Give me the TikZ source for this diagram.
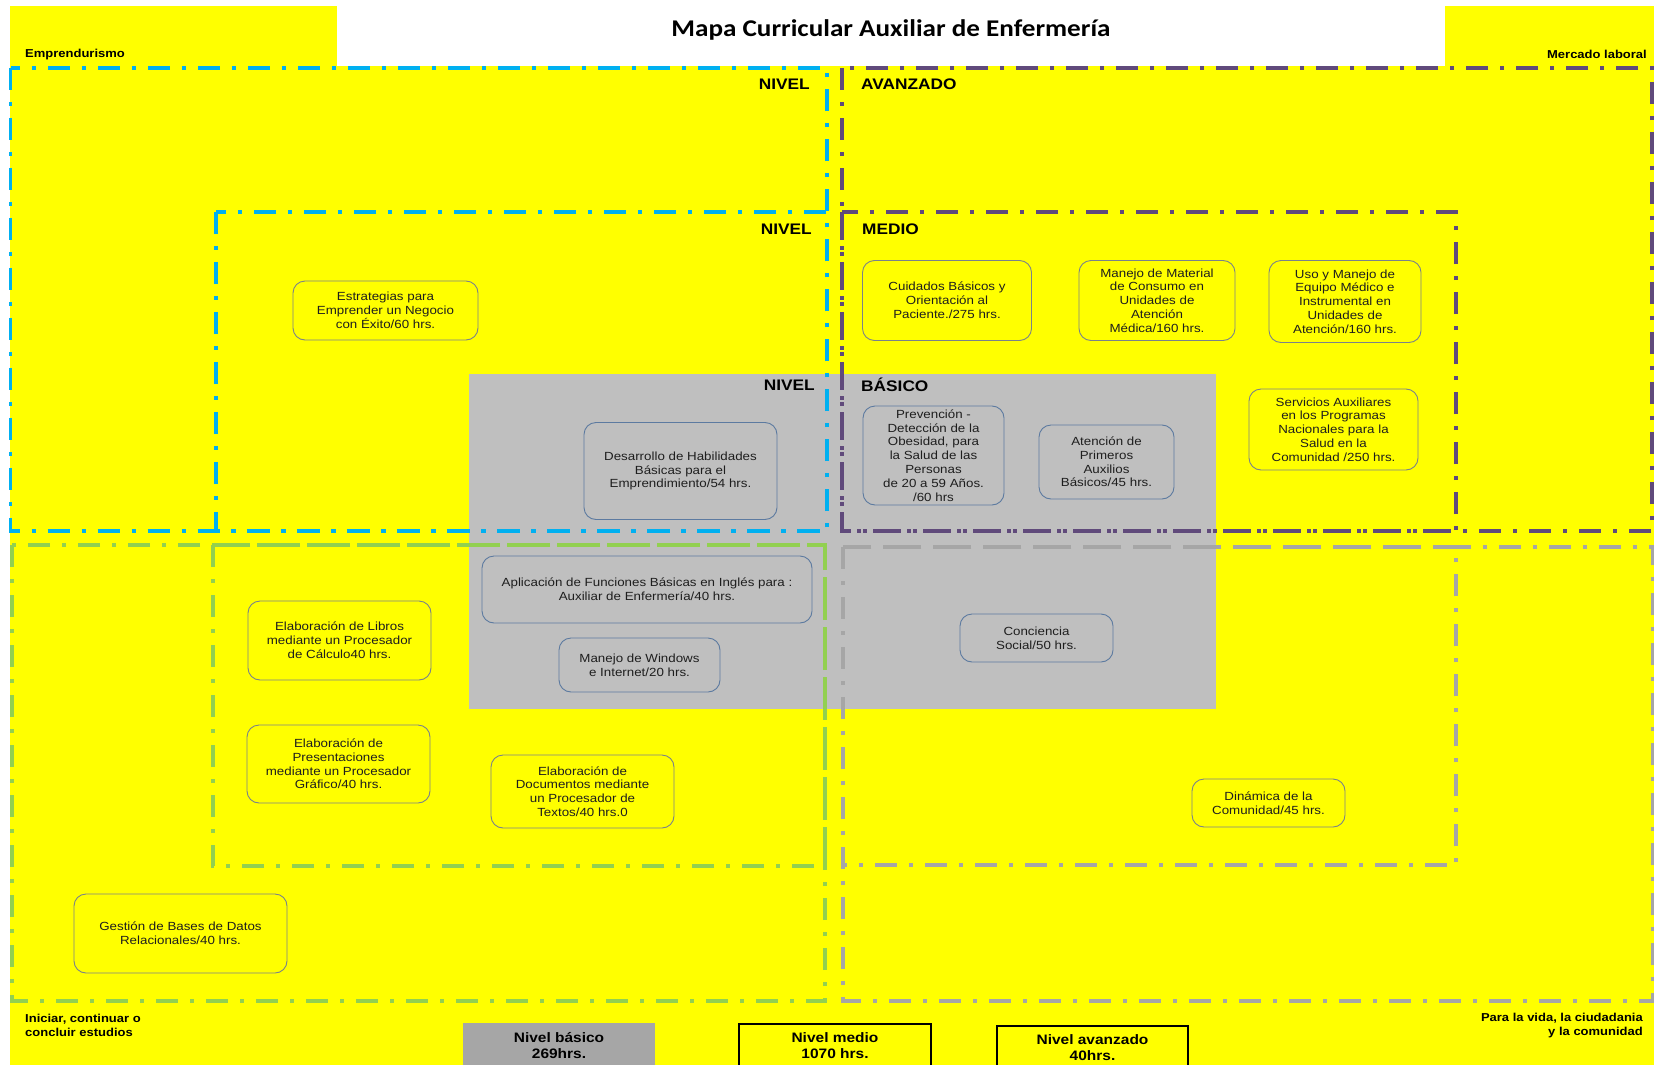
\documentclass[tikz,border=0pt]{standalone}
\usepackage{fontspec}
\setmainfont{Liberation Sans}[FakeStretch=1.13]
\newfontfamily\titulofont{Carlito}[FakeStretch=1.13]
\usetikzlibrary{positioning}
\definecolor{Amarillo}{RGB}{255,255,0}
\definecolor{AzulNivel}{RGB}{0,176,240}
\definecolor{MoradoNivel}{RGB}{96,74,123}
\definecolor{VerdeNivel}{RGB}{146,208,80}
\definecolor{GrisNivel}{RGB}{166,166,166}
\definecolor{GrisBasico}{RGB}{191,191,191}
\definecolor{BordeCurso}{RGB}{122,130,138}
\definecolor{BordeGris}{RGB}{92,122,160}
\definecolor{Texto}{RGB}{30,30,30}

\begin{document}
\begin{tikzpicture}[x=1pt, y=-1pt, font={\fontsize{11.8}{13.8}\selectfont}, text=Texto,
    marco/.style={line width=3.5pt, dash pattern=on 22pt off 12pt on 4pt off 12pt},
    curso/.style={draw=BordeCurso, fill=Amarillo, rounded corners=12pt, line width=0.9pt, align=center, inner sep=2pt},
    cursogris/.style={curso, draw=BordeGris, fill=GrisBasico},
    nivel/.style={font={\fontsize{15.3}{17}\selectfont\bfseries}, text=black, inner sep=0pt},
    extremo/.style={font={\fontsize{11.5}{14}\selectfont\bfseries}, text=black, inner sep=0pt},
    total/.style={font={\fontsize{13.7}{16}\selectfont\bfseries}, text=black, align=center, anchor=north,
        minimum width=#1, inner ysep=9pt, text depth=30pt}]

\useasboundingbox (0,0) rectangle (1654,1065);
\clip (0,0) rectangle (1654,1065);

% fondo
\fill[Amarillo] (10,6) rectangle (1660,1070);
\fill[white] (337,-5) rectangle (1445,66);
\fill[GrisBasico] (469,374) rectangle (1216,709);

% marcos de los niveles
\foreach \c/\xa/\ya/\xb/\yb in {%
    AzulNivel/10.5/68/827/531,
    AzulNivel/216/212/827/531,
    MoradoNivel/842/68/1652/531,
    MoradoNivel/842/212/1456/531,
    VerdeNivel/12/545/825/1001,
    VerdeNivel/213/545/825/866,
    GrisNivel/843/547/1653/1001,
    GrisNivel/843/547/1456/865}{%
    \draw[marco, \c] (\xa,\ya) rectangle (\xb,\yb);
}

% titulo y extremos
\node[font={\titulofont\fontsize{24}{28}\selectfont\bfseries}, text=black] (titulo) at (891,29.5)
    {Mapa Curricular Auxiliar de Enfermería};
\node[extremo, anchor=west] (empr) at (25,55) {Emprendurismo};
\node[extremo, anchor=east] (mercado) at (1647,54) {Mercado laboral};
\node[extremo, anchor=north west, align=left] (iniciar) at (25,1014)
    {Iniciar, continuar o\\concluir estudios};
\node[extremo, anchor=north east, align=right] (vida) at (1643,1013)
    {Para la vida, la ciudadania\\y la comunidad};

% etiquetas de nivel
\node[nivel, anchor=east] (nivelA) at (810,84) {NIVEL};
\node[nivel, anchor=west] (avanzado) at (861,84) {AVANZADO};
\node[nivel, anchor=east] (nivelM) at (812,229) {NIVEL};
\node[nivel, anchor=west] (medio) at (862,229) {MEDIO};
\node[nivel, anchor=east] (nivelB) at (815,385) {NIVEL};
\node[nivel, anchor=west] (basico) at (861,385) {BÁSICO};

% asignaturas
\foreach \cx/\cy/\w/\h/\tipo/\txt [count=\i] in {%
    385.5/310.5/185/59/curso/{Estrategias para\\Emprender un Negocio\\con Éxito/60 hrs.},
    680.5/471/193/97/cursogris/{Desarrollo de Habilidades\\Básicas para el\\Emprendimiento/54 hrs.},
    947/300.5/169/80/curso/{Cuidados Básicos y\\Orientación al\\Paciente./275 hrs.},
    1157/300.5/156/80/curso/{Manejo de Material\\de Consumo en\\Unidades de\\Atención\\Médica/160 hrs.},
    1345/301.5/152/82/curso/{Uso y Manejo de\\Equipo Médico e\\Instrumental en\\Unidades de\\Atención/160 hrs.},
    933.5/455.5/141/99/cursogris/{Prevención -\\Detección de la\\Obesidad, para\\la Salud de las\\Personas\\de 20 a 59 Años.\\/60 hrs},
    1106.5/462/135/74/cursogris/{Atención de\\Primeros\\Auxilios\\Básicos/45 hrs.},
    1333.5/429.5/169/81/curso/{Servicios Auxiliares\\en los Programas\\Nacionales para la\\Salud en la\\Comunidad /250 hrs.},
    647/589.5/330/67/cursogris/{Aplicación de Funciones Básicas en Inglés para :\\Auxiliar de Enfermería/40 hrs.},
    639.5/665/161/54/cursogris/{Manejo de Windows\\e Internet/20 hrs.},
    339.5/640.5/183/79/curso/{Elaboración de Libros\\mediante un Procesador\\de Cálculo40 hrs.},
    338.5/764/183/78/curso/{Elaboración de\\Presentaciones\\mediante un Procesador\\Gráfico/40 hrs.},
    582.5/791.5/183/73/curso/{Elaboración de\\Documentos mediante\\un Procesador de\\Textos/40 hrs.0},
    180.5/933.5/213/79/curso/{Gestión de Bases de Datos\\Relacionales/40 hrs.},
    1036.5/638/153/48/cursogris/{Conciencia\\Social/50 hrs.},
    1268.5/803/153/48/curso/{Dinámica de la\\Comunidad/45 hrs.}}{%
    \node[\tipo, minimum width=\w, minimum height=\h] (curso\i) at (\cx,\cy) {\txt};
}

% totales por nivel
\node[total=192, fill=GrisNivel] (totalB) at (559,1023) {Nivel básico\\269hrs.};
\node[total=192, fill=Amarillo, draw=black, line width=1.5pt] (totalM) at (835,1023) {Nivel medio\\1070 hrs.};
\node[total=191, fill=Amarillo, draw=black, line width=1.5pt] (totalA) at (1092.5,1025) {Nivel avanzado\\40hrs.};

\end{tikzpicture}
\end{document}
